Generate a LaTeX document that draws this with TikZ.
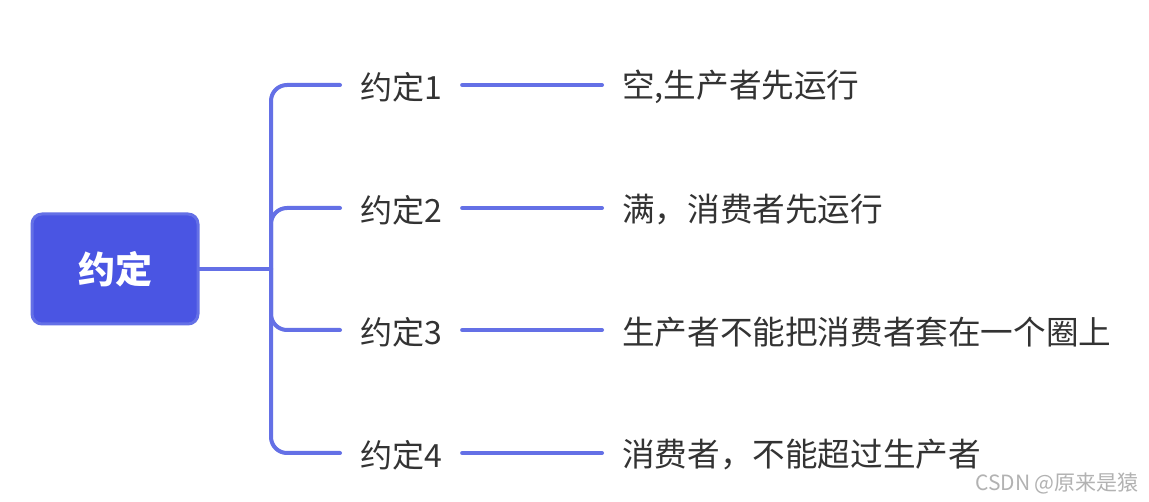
\documentclass[tikz,border=0pt]{standalone}
\usepackage{fontspec}
\setmainfont{Noto Sans CJK SC}
\definecolor{linec}{HTML}{6470E6}
\definecolor{rootfill}{HTML}{4A55E3}
\definecolor{rootdraw}{HTML}{6470E6}
\definecolor{textc}{HTML}{333333}
\begin{document}
\begin{tikzpicture}[x=1pt,y=-1pt,
  conn/.style={draw=linec,line width=4pt,line cap=round},
  rootbox/.style={draw=rootdraw,fill=rootfill,line width=3pt,rounded corners=10pt,
    minimum width=166pt,minimum height=110pt,text=white,
    font=\fontsize{37}{40}\selectfont\bfseries},
  lab/.style={anchor=west,inner xsep=20pt,inner ysep=0pt,text=textc,
    font=\fontsize{32}{35}\selectfont},
  res/.style={lab,font=\fontsize{32.6}{35}\selectfont},
  wm/.style={anchor=west,inner sep=0pt,text=black!30,font=\fontsize{21}{23}\selectfont}]
\useasboundingbox[fill=white] (0,0) rectangle (1149,502);
\node[rootbox] (root) at (115,269) {约定};
\coordinate (J) at (271,269);
\node[lab] (l1) at (340,87) {约定1};
\node[lab] (l2) at (340,210) {约定2};
\node[lab] (l3) at (340,332) {约定3};
\node[lab] (l4) at (340,455) {约定4};
\node[res] (r1) at (602,87) {空,生产者先运行};
\node[res] (r2) at (602,210) {满，消费者先运行};
\node[res] (r3) at (602,332) {生产者不能把消费者套在一个圈上};
\node[res] (r4) at (602,455) {消费者，不能超过生产者};
\node[wm] (wm) at (975,483) {CSDN @原来是猿};
\draw[conn] (root.east) -- (J);
\draw[conn,rounded corners=16pt] (J) |- ([yshift=2pt]l1.west);
\draw[conn,rounded corners=16pt] (J) |- ([yshift=2pt]l2.west);
\draw[conn,rounded corners=16pt] (J) |- ([yshift=2pt]l3.west);
\draw[conn,rounded corners=16pt] (J) |- ([yshift=2pt]l4.west);
\draw[conn] ([yshift=2pt]l1.east) -- ([yshift=2pt]r1.west);
\draw[conn] ([yshift=2pt]l2.east) -- ([yshift=2pt]r2.west);
\draw[conn] ([yshift=2pt]l3.east) -- ([yshift=2pt]r3.west);
\draw[conn] ([yshift=2pt]l4.east) -- ([yshift=2pt]r4.west);
\end{tikzpicture}
\end{document}
